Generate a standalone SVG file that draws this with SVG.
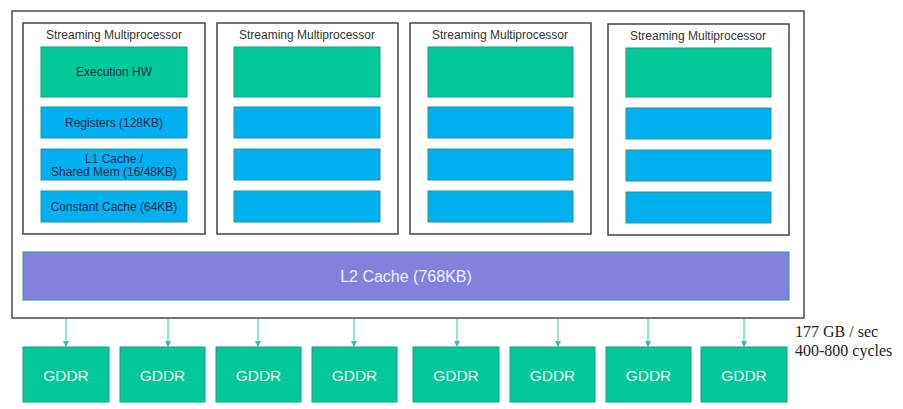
<svg xmlns="http://www.w3.org/2000/svg" width="903" height="409" viewBox="0 0 903 409">
<defs>
<style>
.frame{fill:#fff;stroke:#555;stroke-width:1.6}
.sm{fill:#fff;stroke:#444;stroke-width:1.5}
.smt{font-family:"Liberation Sans",Arial,sans-serif;font-size:12px;fill:#333;text-anchor:middle}
.g{fill:#00c896;stroke:#1d9a7e;stroke-width:1}
.b{fill:#00b0f0;stroke:#1e9a8a;stroke-width:1}
.bt{font-family:"Liberation Sans",Arial,sans-serif;font-size:12px;fill:#1b2a48;text-anchor:middle}
.l2{fill:#8282de;stroke:#2a9a8a;stroke-width:1}
.wt{font-family:"Liberation Sans",Arial,sans-serif;font-size:16px;fill:#eef0fa;text-anchor:middle}
.gd{font-family:"Liberation Sans",Arial,sans-serif;font-size:15.5px;fill:#eefaf6;text-anchor:middle}
.arr{stroke:#74d6c0;stroke-width:1.4;fill:none;marker-end:url(#ah)}
.note{font-family:"Liberation Serif","Times New Roman",serif;font-size:16px;fill:#222}
</style>
<marker id="ah" markerWidth="6" markerHeight="6" refX="5" refY="3" orient="auto" markerUnits="userSpaceOnUse">
<path d="M0,0 L6,3 L0,6 Z" fill="#3fbf9f"/>
</marker>
</defs>
<rect width="903" height="409" fill="#fff"/>
<g id="gpu">
<rect class="frame" x="12" y="11" width="792" height="307"/>
</g>
<g id="sm1">
<rect class="sm" x="23" y="23" width="182" height="211"/>
<text class="smt" x="114" y="39">Streaming Multiprocessor</text>
<rect class="g" x="41" y="47" width="146" height="50"/>
<text class="bt" x="114" y="76">Execution HW</text>
<rect class="b" x="41" y="107" width="146" height="31"/>
<text class="bt" x="114" y="127">Registers (128KB)</text>
<rect class="b" x="41" y="149" width="146" height="31"/>
<text class="bt" x="114" y="163">L1 Cache /</text>
<text class="bt" x="114" y="176">Shared Mem (16/48KB)</text>
<rect class="b" x="41" y="191" width="146" height="31"/>
<text class="bt" x="114" y="211">Constant Cache (64KB)</text>
</g>
<g id="sm2">
<rect class="sm" x="217" y="23" width="181" height="211"/>
<text class="smt" x="307" y="39">Streaming Multiprocessor</text>
<rect class="g" x="234" y="47" width="146" height="50"/>
<rect class="b" x="234" y="107" width="146" height="31"/>
<rect class="b" x="234" y="149" width="146" height="31"/>
<rect class="b" x="234" y="191" width="146" height="31"/>
</g>
<g id="sm3">
<rect class="sm" x="410" y="23" width="181" height="211"/>
<text class="smt" x="500" y="39">Streaming Multiprocessor</text>
<rect class="g" x="428" y="47" width="145" height="50"/>
<rect class="b" x="428" y="107" width="145" height="31"/>
<rect class="b" x="428" y="149" width="145" height="31"/>
<rect class="b" x="428" y="191" width="145" height="31"/>
</g>
<g id="sm4">
<rect class="sm" x="608" y="24" width="181" height="211"/>
<text class="smt" x="698" y="40">Streaming Multiprocessor</text>
<rect class="g" x="626" y="48" width="145" height="49"/>
<rect class="b" x="626" y="108" width="145" height="31"/>
<rect class="b" x="626" y="150" width="145" height="31"/>
<rect class="b" x="626" y="192" width="145" height="31"/>
</g>
<g id="l2">
<rect class="l2" x="23" y="252" width="766" height="48"/>
<text class="wt" x="406" y="282">L2 Cache (768KB)</text>
</g>
<g id="connectors">
<line class="arr" x1="66" y1="319" x2="66" y2="346"/>
<line class="arr" x1="168" y1="319" x2="168" y2="346"/>
<line class="arr" x1="258" y1="319" x2="258" y2="346"/>
<line class="arr" x1="354" y1="319" x2="354" y2="346"/>
<line class="arr" x1="457" y1="319" x2="457" y2="346"/>
<line class="arr" x1="558" y1="319" x2="558" y2="346"/>
<line class="arr" x1="648" y1="319" x2="648" y2="346"/>
<line class="arr" x1="744" y1="319" x2="744" y2="346"/>
</g>
<g id="gddr1"><rect class="g" x="23" y="347" width="86" height="55"/><text class="gd" x="66" y="381">GDDR</text></g>
<g id="gddr2"><rect class="g" x="120" y="347" width="85" height="55"/><text class="gd" x="162.5" y="381">GDDR</text></g>
<g id="gddr3"><rect class="g" x="216" y="347" width="85" height="55"/><text class="gd" x="258.5" y="381">GDDR</text></g>
<g id="gddr4"><rect class="g" x="312" y="347" width="85" height="55"/><text class="gd" x="354.5" y="381">GDDR</text></g>
<g id="gddr5"><rect class="g" x="413" y="347" width="86" height="55"/><text class="gd" x="456" y="381">GDDR</text></g>
<g id="gddr6"><rect class="g" x="510" y="347" width="85" height="55"/><text class="gd" x="552.5" y="381">GDDR</text></g>
<g id="gddr7"><rect class="g" x="606" y="347" width="85" height="55"/><text class="gd" x="648.5" y="381">GDDR</text></g>
<g id="gddr8"><rect class="g" x="701" y="347" width="86" height="55"/><text class="gd" x="744" y="381">GDDR</text></g>
<g id="notes">
<text class="note" x="795" y="337">177 GB / sec</text>
<text class="note" x="795" y="356">400-800 cycles</text>
</g>
</svg>
